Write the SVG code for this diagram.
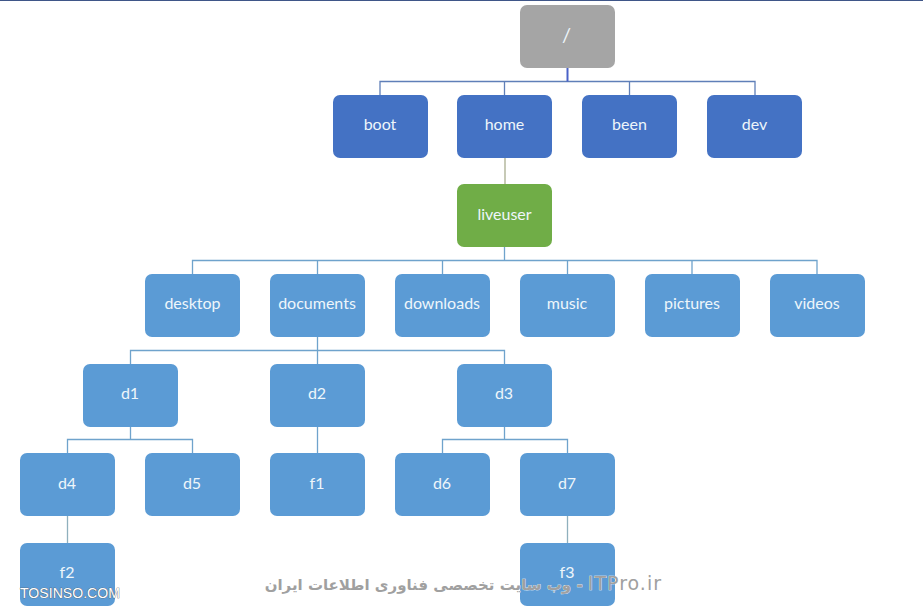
<svg xmlns="http://www.w3.org/2000/svg" width="923" height="615" viewBox="0 0 923 615">
<defs><style>
.n{stroke:none}
.gray{fill:#a5a5a5}.dark{fill:#4472c4}.green{fill:#70ad47}.light{fill:#5b9bd5}
text.l{font-family:"Lato","Open Sans","Liberation Sans",sans-serif;font-size:16px;fill:#eef6fb;text-anchor:middle}
#connectors path{fill:none;stroke-width:1.3}
.wm{font-family:"DejaVu Sans","Liberation Sans",sans-serif;font-size:15px;font-weight:700;fill:#a0a0a0;stroke:#fff;stroke-width:.6px;paint-order:stroke}
.it{font-size:19px;font-weight:400;letter-spacing:1px}
.ws{font-family:"Liberation Sans",sans-serif;font-size:14.500px;fill:#fff;stroke:#555;stroke-width:.7px;paint-order:stroke}
</style></defs>
<rect width="923" height="615" fill="#fff"/>
<rect width="923" height="1" fill="#3f5688"/>
<g id="connectors">
<path d="M380 95V81.500H755V95M504.500 81.500V95M629.500 81.500V95" stroke="#5f7fb8"/>
<path d="M567.500 68V81.500" stroke="#4a62c8" style="stroke-width:2"/>
<path d="M505 158V184" stroke="#a9ad8f"/>
<path d="M192.500 274V260.500H817V274M317.500 260.500V274M442.500 260.500V274M567.500 260.500V274M692 260.500V274M504.500 247V260.500" stroke="#6fa3cc"/>
<path d="M130.500 364V350.500H504.500V364M317.500 337V364" stroke="#6fa3cc"/>
<path d="M67.500 453V439.500H192.500V453M130.500 427V439.500" stroke="#6fa3cc"/>
<path d="M317.500 427V453" stroke="#6fa3cc"/>
<path d="M442.500 453V439.500H567.500V453M504.500 427V439.500" stroke="#6fa3cc"/>
<path d="M67.500 516V543M567.500 516V543" stroke="#8fb0bd"/>
</g>
<g id="root"><rect class="n gray" x="520" y="5" width="95" height="63" rx="7"/><text class="l" x="566.500" y="42" style="font-size:20px">/</text></g>
<g id="boot"><rect class="n dark" x="333" y="95" width="95" height="63" rx="7"/><text class="l" x="380" y="130">boot</text></g>
<g id="home"><rect class="n dark" x="457" y="95" width="95" height="63" rx="7"/><text class="l" x="504.500" y="130">home</text></g>
<g id="been"><rect class="n dark" x="582" y="95" width="95" height="63" rx="7"/><text class="l" x="629.500" y="130">been</text></g>
<g id="dev"><rect class="n dark" x="707" y="95" width="95" height="63" rx="7"/><text class="l" x="754.500" y="130">dev</text></g>
<g id="liveuser"><rect class="n green" x="457" y="184" width="95" height="63" rx="7"/><text class="l" x="504.500" y="220">liveuser</text></g>
<g id="desktop"><rect class="n light" x="145" y="274" width="95" height="63" rx="7"/><text class="l" x="192.500" y="309">desktop</text></g>
<g id="documents"><rect class="n light" x="270" y="274" width="95" height="63" rx="7"/><text class="l" x="317" y="309">documents</text></g>
<g id="downloads"><rect class="n light" x="395" y="274" width="95" height="63" rx="7"/><text class="l" x="442" y="309">downloads</text></g>
<g id="music"><rect class="n light" x="520" y="274" width="95" height="63" rx="7"/><text class="l" x="567" y="309">music</text></g>
<g id="pictures"><rect class="n light" x="645" y="274" width="95" height="63" rx="7"/><text class="l" x="692" y="309">pictures</text></g>
<g id="videos"><rect class="n light" x="770" y="274" width="95" height="63" rx="7"/><text class="l" x="817" y="309">videos</text></g>
<g id="d1"><rect class="n light" x="83" y="364" width="95" height="63" rx="7"/><text class="l" x="130" y="399">d1</text></g>
<g id="d2"><rect class="n light" x="270" y="364" width="95" height="63" rx="7"/><text class="l" x="317" y="399">d2</text></g>
<g id="d3"><rect class="n light" x="457" y="364" width="95" height="63" rx="7"/><text class="l" x="504" y="399">d3</text></g>
<g id="d4"><rect class="n light" x="20" y="453" width="95" height="63" rx="7"/><text class="l" x="67" y="489">d4</text></g>
<g id="d5"><rect class="n light" x="145" y="453" width="95" height="63" rx="7"/><text class="l" x="192" y="489">d5</text></g>
<g id="f1"><rect class="n light" x="270" y="453" width="95" height="63" rx="7"/><text class="l" x="317" y="489">f1</text></g>
<g id="d6"><rect class="n light" x="395" y="453" width="95" height="63" rx="7"/><text class="l" x="442" y="489">d6</text></g>
<g id="d7"><rect class="n light" x="520" y="453" width="95" height="63" rx="7"/><text class="l" x="567" y="489">d7</text></g>
<g id="f2"><rect class="n light" x="20" y="543" width="95" height="63" rx="7"/><text class="l" x="67" y="578">f2</text></g>
<g id="f3"><rect class="n light" x="520" y="543" width="95" height="63" rx="7"/><text class="l" x="567" y="578">f3</text></g>
<text class="ws" x="20" y="598" textLength="100" lengthAdjust="spacingAndGlyphs">TOSINSO.COM</text>
<text class="wm" x="662" y="590" direction="rtl"><tspan class="it">ITPro.ir</tspan> - وب سایت تخصصی فناوری اطلاعات ایران</text>
</svg>
